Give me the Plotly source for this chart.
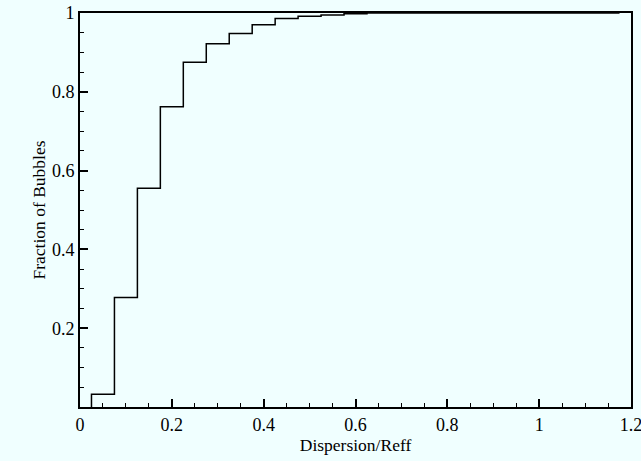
import plotly.graph_objects as go

# Bin edges (Dispersion/Reff) and cumulative fraction in each bin
bin_edges = [0.025, 0.075, 0.125, 0.175, 0.225, 0.275, 0.325, 0.375, 0.425,
             0.475, 0.525, 0.575, 0.625, 0.675, 1.175]
cum_fraction = [0.0325, 0.278, 0.555, 0.762, 0.875, 0.922, 0.948, 0.970,
                0.986, 0.992, 0.995, 0.998, 1.0, 1.0]

x_ticks = [0, 0.2, 0.4, 0.6, 0.8, 1.0, 1.2]
x_tick_labels = ["0", "0.2", "0.4", "0.6", "0.8", "1", "1.2"]
y_ticks = [0.2, 0.4, 0.6, 0.8, 1.0]
y_tick_labels = ["0.2", "0.4", "0.6", "0.8", "1"]

xs = [bin_edges[0]] + bin_edges[:-1] + [bin_edges[-1]]
ys = [0] + cum_fraction + [cum_fraction[-1]]

bg = "#F0FFFF"
font = dict(family="Liberation Serif, Times New Roman, serif", size=18, color="black")
title_font = dict(family="Liberation Serif, Times New Roman, serif", size=17.5, color="black")

fig = go.Figure()
fig.add_trace(go.Scatter(x=xs, y=ys, mode="lines", line=dict(shape="hv", color="black", width=1.5),
                         showlegend=False, hoverinfo="skip"))

axis_common = dict(showgrid=False, zeroline=False, showline=True, linecolor="black", linewidth=2,
                   mirror=True, ticks="inside", ticklen=8, tickwidth=2, tickcolor="black",
                   tickfont=font, automargin=False, ticklabeloverflow="allow")

fig.update_xaxes(range=[0, 1.2], tickvals=x_ticks, ticktext=x_tick_labels,
                 minor=dict(ticks="inside", ticklen=4, tickwidth=1, tickcolor="black", dtick=0.05, tick0=0),
                 title=dict(text="Dispersion/Reff", font=title_font, standoff=0),
                 **axis_common)
fig.update_yaxes(range=[0, 1], tickvals=y_ticks, ticktext=y_tick_labels,
                 minor=dict(ticks="inside", ticklen=4, tickwidth=1, tickcolor="black", dtick=0.05, tick0=0),
                 title=dict(text="Fraction of Bubbles", font=title_font, standoff=2),
                 **axis_common)

fig.update_layout(width=641, height=461, paper_bgcolor=bg, plot_bgcolor=bg,
                  margin=dict(l=80, r=10, t=13, b=54), font=font)

fig.write_html("out.html")
